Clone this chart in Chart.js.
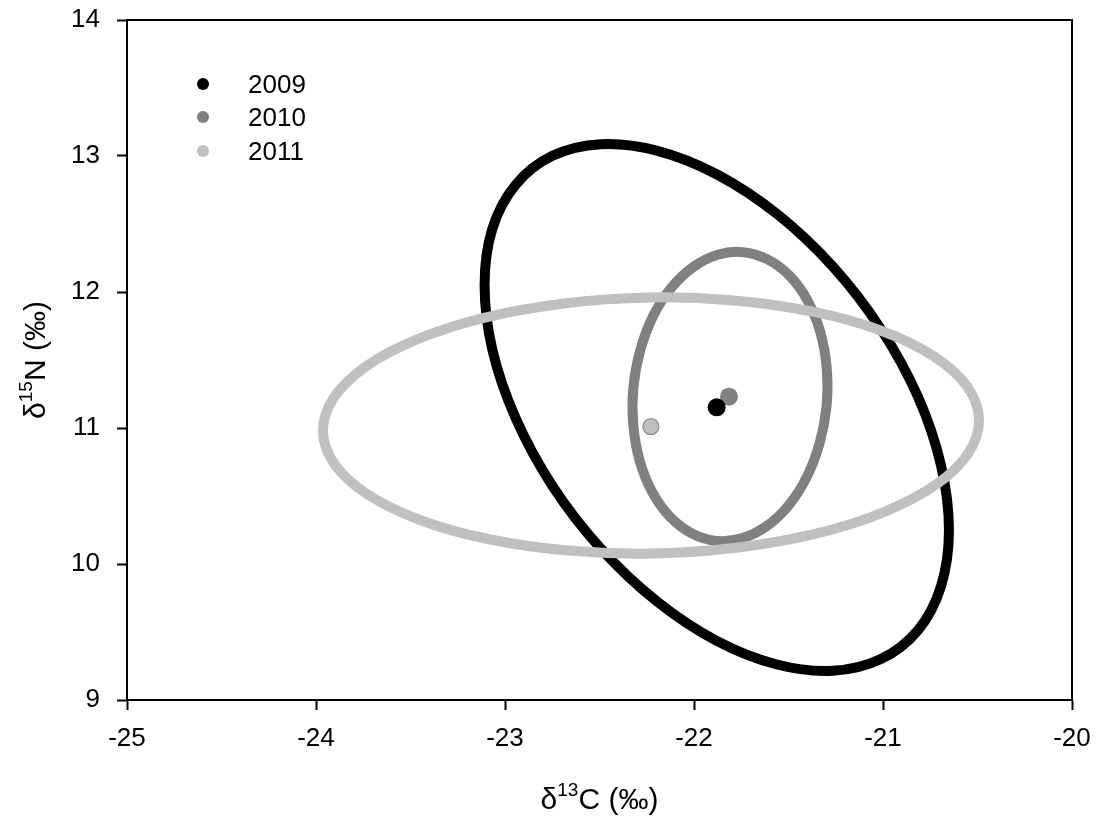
<!DOCTYPE html>
<html>
<head>
<meta charset="utf-8">
<script src="https://cdn.jsdelivr.net/npm/chart.js@4.4.1/dist/chart.umd.min.js"></script>
<style>
  html, body { margin: 0; padding: 0; background: #ffffff; }
  #wrap { width: 1097px; height: 823px; }
</style>
</head>
<body>
<div id="wrap"><canvas id="c" width="1097" height="823"></canvas></div>
<script>
// ---------------- data ----------------
const years = ['2009', '2010', '2011'];
const meanC = [-21.880, -21.815, -22.228];
const meanN = [11.152, 11.230, 11.010];

const ell2009C = [-20.651, -20.693, -20.815, -21.011, -21.265, -21.561, -21.880, -22.198, -22.494, -22.749, -22.944, -23.067, -23.108, -23.067, -22.944, -22.749, -22.494, -22.198, -21.880, -21.561, -21.265, -21.011, -20.815, -20.693];
const ell2009N = [10.250, 10.725, 11.229, 11.727, 12.186, 12.574, 12.866, 13.040, 13.087, 13.001, 12.788, 12.465, 12.051, 11.576, 11.073, 10.574, 10.115, 9.727, 9.435, 9.261, 9.215, 9.301, 9.513, 9.837];

const ell2010C = [-21.298, -21.298, -21.332, -21.399, -21.494, -21.611, -21.741, -21.875, -22.005, -22.122, -22.218, -22.285, -22.321, -22.321, -22.287, -22.220, -22.125, -22.008, -21.878, -21.744, -21.614, -21.497, -21.401, -21.334];
const ell2010N = [11.168, 11.445, 11.707, 11.937, 12.119, 12.240, 12.293, 12.274, 12.183, 12.028, 11.818, 11.568, 11.296, 11.018, 10.756, 10.526, 10.344, 10.223, 10.170, 10.190, 10.280, 10.435, 10.646, 10.895];

const ell2011C = [-20.492, -20.554, -20.730, -21.009, -21.370, -21.790, -22.240, -22.688, -23.106, -23.463, -23.737, -23.907, -23.963, -23.901, -23.725, -23.446, -23.085, -22.665, -22.215, -21.767, -21.349, -20.992, -20.718, -20.548];
const ell2011N = [11.062, 11.304, 11.526, 11.715, 11.855, 11.938, 11.960, 11.916, 11.812, 11.653, 11.451, 11.220, 10.975, 10.733, 10.510, 10.322, 10.182, 10.099, 10.077, 10.121, 10.225, 10.384, 10.585, 10.817];

const xTicks = [-25, -24, -23, -22, -21, -20];
const yTicks = [9, 10, 11, 12, 13, 14];

// ---------------- styles ----------------
const colors = ['#000000', '#808080', '#c0c0c0'];
const FONT = "'Liberation Sans', Arial, Helvetica, sans-serif";

// closed loop: wrap with neighbour points so the spline is smooth at the seam
function loop(xs, ys) {
  const pts = xs.map((x, i) => ({ x: x, y: ys[i] }));
  const n = pts.length;
  return [pts[n - 1]].concat(pts, [pts[0], pts[1]]);
}
function ellipseDataset(xs, ys, color, order) {
  const data = loop(xs, ys);
  const last = data.length - 1;
  return {
    data: data,
    showLine: true,
    pointRadius: 0,
    pointHoverRadius: 0,
    borderColor: color,
    backgroundColor: color,
    borderWidth: 10,
    tension: 0.33,
    fill: false,
    order: order,
    segment: {
      borderColor: ctx => (ctx.p0DataIndex === 0 || ctx.p1DataIndex === last) ? 'rgba(0,0,0,0)' : undefined
    }
  };
}

const datasets = [
  { label: years[0], data: [{ x: meanC[0], y: meanN[0] }], pointRadius: 9, pointBackgroundColor: colors[0], pointBorderColor: colors[0], pointBorderWidth: 0, showLine: false, order: 0 },
  { label: years[1], data: [{ x: meanC[1], y: meanN[1] }], pointRadius: 9, pointBackgroundColor: colors[1], pointBorderColor: colors[1], pointBorderWidth: 0, showLine: false, order: 1 },
  { label: years[2], data: [{ x: meanC[2], y: meanN[2] }], pointRadius: 8, pointBackgroundColor: colors[2], pointBorderColor: '#8a8a8a', pointBorderWidth: 1.2, showLine: false, order: 2 },
  ellipseDataset(ell2011C, ell2011N, colors[2], 3),
  ellipseDataset(ell2010C, ell2010N, colors[1], 4),
  ellipseDataset(ell2009C, ell2009N, colors[0], 5)
];

// draw text made of pieces (superscripts) centred at cx
function drawPieces(ctx, parts, cx, baseY) {
  let total = 0;
  parts.forEach(p => { ctx.font = p.size + 'px ' + FONT; p.w = ctx.measureText(p.t).width; total += p.w; });
  let x = cx - total / 2;
  ctx.textAlign = 'left';
  ctx.textBaseline = 'alphabetic';
  parts.forEach(p => {
    ctx.font = p.size + 'px ' + FONT;
    ctx.fillText(p.t, x, baseY + p.dy);
    x += p.w;
  });
}

const decor = {
  id: 'decor',
  afterDraw(chart) {
    const ctx = chart.ctx;
    const a = chart.chartArea;
    ctx.save();
    // frame top & right
    ctx.strokeStyle = '#000';
    ctx.lineWidth = 2;
    ctx.beginPath();
    ctx.moveTo(a.left - 1, a.top);
    ctx.lineTo(a.right, a.top);
    ctx.lineTo(a.right, a.bottom);
    ctx.stroke();

    ctx.fillStyle = '#000';
    // x title
    drawPieces(ctx, [
      { t: 'δ', size: 30, dy: 0 },
      { t: '13', size: 19, dy: -13 },
      { t: 'C (‰)', size: 30, dy: 0 }
    ], (a.left + a.right) / 2, 809);
    // y title
    ctx.save();
    ctx.translate(45, (a.top + a.bottom) / 2);
    ctx.rotate(-Math.PI / 2);
    drawPieces(ctx, [
      { t: 'δ', size: 30, dy: 0 },
      { t: '15', size: 19, dy: -13 },
      { t: 'N (‰)', size: 30, dy: 0 }
    ], 0, 0);
    ctx.restore();

    // legend
    const rows = [84, 117, 151];
    years.forEach((yr, i) => {
      ctx.beginPath();
      ctx.arc(203, rows[i], 6, 0, Math.PI * 2);
      ctx.fillStyle = colors[i];
      ctx.fill();
      ctx.fillStyle = '#000';
      ctx.font = '26px ' + FONT;
      ctx.textAlign = 'left';
      ctx.textBaseline = 'alphabetic';
      ctx.fillText(yr, 248, rows[i] + 9);
    });
    ctx.restore();
  }
};

new Chart(document.getElementById('c'), {
  type: 'scatter',
  data: { datasets: datasets },
  plugins: [decor],
  options: {
    responsive: false,
    animation: false,
    devicePixelRatio: 1,
    layout: { padding: { left: 0, top: 20, right: 25, bottom: 0 } },
    plugins: {
      legend: { display: false },
      tooltip: { enabled: false },
      title: { display: false }
    },
    scales: {
      x: {
        type: 'linear',
        min: xTicks[0],
        max: xTicks[xTicks.length - 1],
        afterBuildTicks: s => { s.ticks = xTicks.map(v => ({ value: v })); },
        afterFit: s => { s.height = 123; s.paddingLeft = 0; s.paddingRight = 0; },
        ticks: {
          color: '#000',
          font: { family: FONT, size: 26 },
          padding: 13,
          maxRotation: 0,
          callback: v => String(v)
        },
        grid: { display: true, drawOnChartArea: false, drawTicks: true, tickLength: 10, tickWidth: 2, tickColor: '#000' },
        border: { display: true, color: '#000', width: 2 },
        title: { display: false }
      },
      y: {
        type: 'linear',
        min: yTicks[0],
        max: yTicks[yTicks.length - 1],
        afterBuildTicks: s => { s.ticks = yTicks.map(v => ({ value: v })); },
        afterFit: s => { s.width = 127; s.paddingTop = 0; s.paddingBottom = 0; },
        ticks: {
          color: '#000',
          font: { family: FONT, size: 26 },
          padding: 17,
          callback: v => String(v)
        },
        grid: { display: true, drawOnChartArea: false, drawTicks: true, tickLength: 10, tickWidth: 2, tickColor: '#000' },
        border: { display: true, color: '#000', width: 2 },
        title: { display: false }
      }
    }
  }
});
</script>
</body>
</html>
